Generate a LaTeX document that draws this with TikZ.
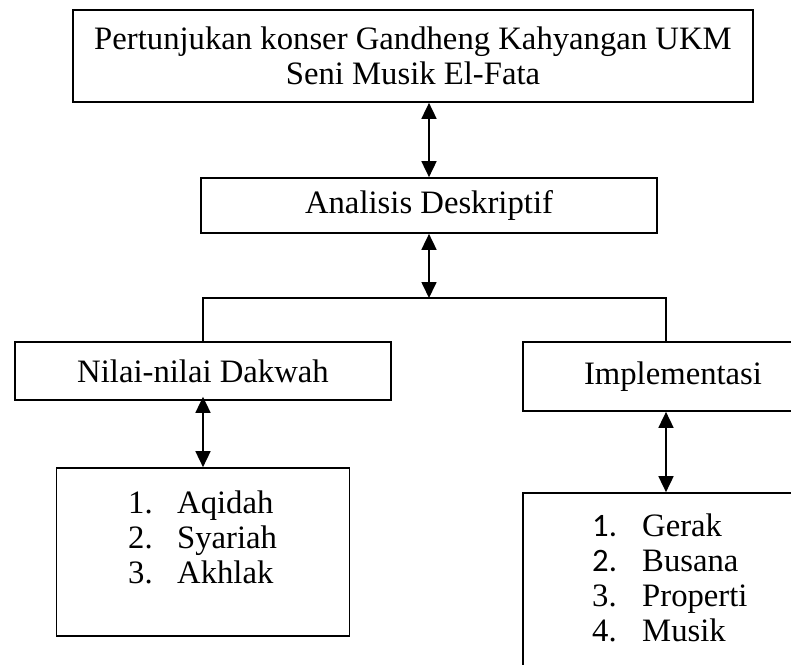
\documentclass[tikz,border=0pt]{standalone}
\usepackage{fontspec}
\setmainfont{Liberation Serif}
\newfontfamily\calibrifont{Carlito}
\usetikzlibrary{arrows.meta}
\begin{document}
\begin{tikzpicture}[x=1pt,y=-1pt,
  boxnode/.style={draw=black,line width=1.7pt,fill=white,inner sep=0pt,align=center,
    font=\fontsize{32.7}{35}\selectfont},
  listnode/.style={inner sep=0pt,anchor=base west,font=\fontsize{32.7}{35}\selectfont},
  dbl/.style={line width=1.7pt,{Triangle[length=16pt,width=15pt]}-{Triangle[length=16pt,width=15pt]}},
  conn/.style={line width=1.7pt}]
\useasboundingbox (0,0) rectangle (791,664);
\clip (0,0) rectangle (791,664);
\fill[white] (0,0) rectangle (791,664);
% boxes
\node[boxnode,minimum width=680pt,minimum height=92pt] (top) at (413,56)
  {Pertunjukan konser Gandheng Kahyangan UKM\\Seni Musik El-Fata};
\node[boxnode,minimum width=456pt,minimum height=55pt] (ana) at (429,205.5) {Analisis Deskriptif};
\node[boxnode,minimum width=376pt,minimum height=58pt] (nil) at (203,371) {Nilai-nilai Dakwah};
\node[boxnode,minimum width=286pt,minimum height=69pt] (impl) at (666,376.5) {\hspace*{14pt}Implementasi};
\node[boxnode,minimum width=293pt,minimum height=168pt] (aq) at (203,552) {};
\node[boxnode,minimum width=286pt,minimum height=214pt] (rl) at (666,600) {};
% list texts
\node[listnode] (aqlist) at (128,513) {\begin{tabular}[t]{@{}p{49pt}@{}l@{}}
1. & Aqidah\\
2. & Syariah\\
3. & Akhlak
\end{tabular}};
\node[listnode] (rllist) at (592,536) {\begin{tabular}[t]{@{}p{50pt}@{}l@{}}
{\calibrifont 1.} & Gerak\\
{\calibrifont 2.} & Busana\\
3. & Properti\\
4. & Musik
\end{tabular}};
% connectors
\coordinate (split) at (429,298);
\draw[dbl] (top.south -| ana.north) -- (ana.north);
\draw[dbl] (ana.south) -- (split);
\draw[conn] (nil.north) |- (split);
\draw[conn] (split) -| (impl.north);
\draw[dbl] ([yshift=4pt]nil.south) -- (aq.north);
\draw[dbl] (impl.south) -- (rl.north);
\end{tikzpicture}
\end{document}
